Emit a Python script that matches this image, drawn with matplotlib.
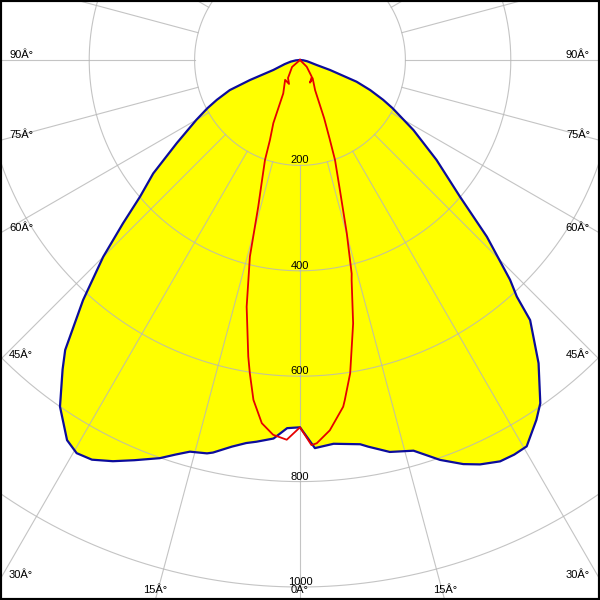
import numpy as np
import matplotlib
matplotlib.use("Agg")
import matplotlib.pyplot as plt
from matplotlib.patches import Rectangle

plt.rcParams['font.family'] = ['Liberation Sans', 'DejaVu Sans']

# luminous intensity (cd) vs. angle from nadir (deg)
# blue curve, left half (C180) and right half (C0)
blueLeftDeg = [0, 2, 4, 6.5, 8, 10, 12.5, 13.3, 15.7, 17.5, 19.4, 22.5, 25, 27.5, 29.6, 31.5, 34.7,
               37.5, 39, 42.1, 45, 47.3, 49.5, 52.3, 56, 60, 62.5, 64.4, 66.8, 68.2, 69.5, 75, 80, 85, 90]
blueLeftCd = [697, 699, 720, 729, 734, 745, 763, 767, 772, 785, 801, 822, 840, 855, 858, 846, 800,
              740, 708, 614, 528, 457, 399, 352, 282, 227, 198, 175, 145, 102, 54, 30, 18, 8, 0]
blueRightDeg = [0, 2.2, 5, 8.9, 10, 12.9, 16.2, 19.3, 22, 24, 26.5, 28.5, 30.4, 33.3, 35, 38.2,
                41.5, 42.5, 43.7, 46.6, 49.5, 53.8, 58.3, 62.5, 64.4, 66.8, 69, 71.6, 73.3, 80, 85, 90]
blueRightCd = [697, 737, 731, 738, 745, 763, 772, 804, 827, 840, 851, 852, 850, 817, 795, 732,
               659, 609, 577, 488, 399, 321, 253, 198, 175, 145, 115, 60, 33, 14, 6, 0]

# red curve, left and right halves (from nadir up to the centre)
redLeftDeg = [0, 2, 4.1, 6, 7.8, 9.1, 9.9, 12.2, 13.2, 14.3, 15.9, 17.5, 19.3, 20.6, 22.9, 26.6,
              36.9, 24.6, 33.7, 48.8, 90]
redLeftCd = [697, 721, 713, 693, 651, 602, 571, 479, 429, 385, 289, 240, 201, 162, 130, 71,
             47, 50, 41, 20, 0]
redRightDeg = [0, 1.7, 2.5, 4.6, 7.1, 7.5, 9.1, 11.4, 13.2, 13.6, 15.1, 17, 19.3, 20.6, 22.5, 26.6,
               34.8, 23.8, 35, 45, 90]
redRightCd = [697, 731, 728, 705, 663, 651, 602, 510, 429, 417, 341, 260, 201, 160, 120, 64,
              42, 47, 39, 18, 0]

ringValues = [200, 400, 600, 800, 1000]
ringLabels = ["200", "400", "600", "800", "1000"]
edgeAngles = [90, 75, 60, 45, 30]    # labelled on the side edges
bottomAngles = [15, 0]               # labelled on the bottom edge
degSign = "\u00c2\u00b0"

# layout (pixels)
W = 600
cx, cy = 300, 60          # pole position in the image
pxPerCd = 0.527
rmax = 1200
R = rmax * pxPerCd

fig = plt.figure(figsize=(6, 6), dpi=100)
ax = fig.add_axes([(cx - R) / W, (W - cy - R) / W, 2 * R / W, 2 * R / W], projection="polar")
ax.set_theta_zero_location("S")
ax.set_theta_direction(1)
ax.set_ylim(0, rmax)
ax.set_xticks([])
ax.set_yticks([])
ax.grid(False)
ax.spines["polar"].set_visible(False)
ax.patch.set_facecolor("white")

# blue curve: right half from 90 down to 0, then left half 0 -> 90
thBlue = np.concatenate([np.radians(blueRightDeg[::-1]), -np.radians(blueLeftDeg)])
rBlue = np.concatenate([blueRightCd[::-1], blueLeftCd])
ax.fill(thBlue, rBlue, color="#ffff00", zorder=1, lw=0)

# grid
gridCol = "#b7b7b7"
full = np.linspace(0, 2 * np.pi, 721)
for r in ringValues:
    ax.plot(full, np.full_like(full, r), color=gridCol, lw=0.8, alpha=0.82, zorder=2)
for a in range(0, 360, 15):
    ax.plot([np.radians(a)] * 2, [200, rmax], color=gridCol, lw=0.8, alpha=0.82, zorder=2)

ax.plot(thBlue, rBlue, color="#0c0c9c", lw=1.6, zorder=4)

thRed = np.concatenate([np.radians(redRightDeg[::-1]), -np.radians(redLeftDeg)])
rRed = np.concatenate([redRightCd[::-1], redLeftCd])
ax.plot(thRed, rRed, color="#e60000", lw=1.3, zorder=5)

# ring labels just above each circle on the vertical axis
for r, s in zip(ringValues, ringLabels):
    ax.annotate(s, xy=(0, r), xytext=(0, 1.4), textcoords="offset points",
                ha="center", va="baseline", fontsize=8, zorder=6)

# angle labels where the radial lines leave the picture
for g in edgeAngles:
    yEdge = cy + cx / np.tan(np.radians(g))
    yb = 1 - (yEdge - 2) / W
    fig.text(9 / W, yb, f"{g}{degSign}", ha="left", va="baseline", fontsize=8)
    fig.text(590 / W, yb, f"{g}{degSign}", ha="right", va="baseline", fontsize=8)
for g in bottomAngles:
    dx = (W - cy) * np.tan(np.radians(g))
    for xe in sorted(set([cx - dx, cx + dx])):
        fig.text(xe / W, 1 - 593 / W, f"{g}{degSign}", ha="center", va="baseline", fontsize=8)

fig.add_artist(Rectangle((0, 0), 1, 1, transform=fig.transFigure, fill=False,
                         edgecolor="black", lw=3, zorder=10))

fig.savefig("out.png", dpi=100)
